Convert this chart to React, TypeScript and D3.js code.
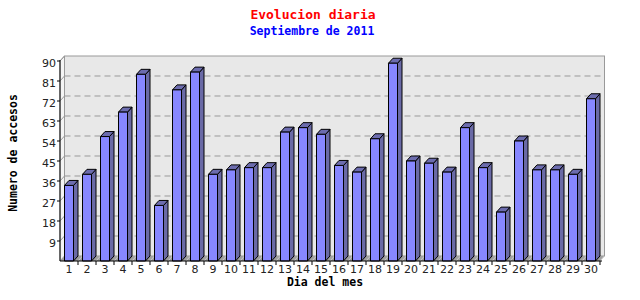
import React from "react";
import * as d3 from "d3";

const days: string[] = Array.from({ length: 30 }, (_, i) => String(i + 1));
const accesos: number[] = [34, 39, 56, 67, 84, 25, 77, 85, 39, 41, 42, 42, 58, 60, 57, 43, 40, 55, 89, 45, 44, 40, 60, 42, 22, 54, 41, 41, 39, 73];
const yTicks: number[] = [9, 18, 27, 36, 45, 54, 63, 72, 81, 90];

const W = 640, H = 300;
const X0 = 60, X1 = 600, YB = 261, YT = 61;
const DX = 4.5, DY = 5;

export default function App() {
  const x = d3.scaleBand<string>().domain(days).range([X0, X1]).paddingInner(0.5).paddingOuter(0.25);
  const y = d3.scaleLinear().domain([0, 90]).range([YB, YT]);
  const band = (X1 - X0) / days.length;
  const mono = "'DejaVu Sans Mono', monospace";
  const sans = "'DejaVu Sans', sans-serif";
  return (
    <svg width={W} height={H} style={{ position: "absolute", left: 0, top: 0, background: "#fff" }}>
      <rect x={0} y={0} width={W} height={H} fill="#fff" />
      <text x={313} y={19} textAnchor="middle" fill="#ff0000" fontFamily={mono} fontWeight="bold" fontSize={13}>Evolucion diaria</text>
      <text x={312} y={35} textAnchor="middle" fill="#0000ff" fontFamily={mono} fontWeight="bold" fontSize={11.5}>Septiembre de 2011</text>
      {/* back wall */}
      <rect x={X0 + DX} y={YT - DY} width={X1 - X0} height={YB - YT} fill="#e8e8e8" stroke="#999" strokeWidth={1} />
      {/* left wall */}
      <polygon points={`${X0},${YT} ${X0 + DX},${YT - DY} ${X0 + DX},${YB - DY} ${X0},${YB}`} fill="#f4f4f4" stroke="#999" strokeWidth={1} />
      {/* floor */}
      <polygon points={`${X0},${YB} ${X0 + DX},${YB - DY} ${X1 + DX},${YB - DY} ${X1},${YB}`} fill="#a0a0a0" />
      {/* grid */}
      {yTicks.map((t) => (
        <g key={t}>
          <line x1={X0} y1={y(t)} x2={X0 + DX} y2={y(t) - DY} stroke="#999" />
          {t < 90 && <line x1={X0 + DX} y1={y(t) - DY} x2={X1 + DX} y2={y(t) - DY} stroke="#999" strokeDasharray="6 4" />}
          <line x1={X0 - 3} y1={y(t)} x2={X0} y2={y(t)} stroke="#000" />
          <text x={56} y={y(t) + 6} textAnchor="end" fontFamily={sans} fontSize={11} fill="#222">{t}</text>
        </g>
      ))}
      {/* floor diagonals */}
      {days.map((d, i) => (
        <line key={"fd" + d} x1={X0 + band * (i + 1)} y1={YB} x2={X0 + band * (i + 1) + DX} y2={YB - DY} stroke="#ccc" />
      ))}
      {/* bars */}
      {days.map((d, i) => {
        const xl = x(d)!;
        const xr = xl + x.bandwidth();
        const yt = y(accesos[i]);
        return (
          <g key={d} stroke="#000" strokeWidth={1} strokeLinejoin="round">
            <polygon points={`${xr},${yt} ${xr + DX},${yt - DY} ${xr + DX},${YB - DY} ${xr},${YB}`} fill="#6a6aa6" />
            <polygon points={`${xl},${yt} ${xl + DX},${yt - DY} ${xr + DX},${yt - DY} ${xr},${yt}`} fill="#6c6cae" />
            <rect x={xl} y={yt} width={xr - xl} height={YB - yt} fill="#8787ff" />
          </g>
        );
      })}
      {/* axes */}
      <line x1={X0} y1={YT - 1} x2={X0} y2={YB} stroke="#000" />
      <line x1={X0} y1={YB} x2={X1 + 2} y2={YB} stroke="#000" />
      {days.map((d, i) => (
        <g key={"xt" + d}>
          <line x1={X0 + band * (i + 1)} y1={YB} x2={X0 + band * (i + 1)} y2={YB + 4} stroke="#000" />
          <text x={x(d)! + x.bandwidth() / 2} y={273} textAnchor="middle" fontFamily={sans} fontSize={11} fill="#222">{d}</text>
        </g>
      ))}
      <text x={325} y={286} textAnchor="middle" fontFamily={mono} fontWeight="bold" fontSize={11.5} fill="#000">Dia del mes</text>
      <text transform="translate(17,153) rotate(-90)" textAnchor="middle" fontFamily={mono} fontWeight="bold" fontSize={11.5} fill="#000">Numero de accesos</text>
    </svg>
  );
}
